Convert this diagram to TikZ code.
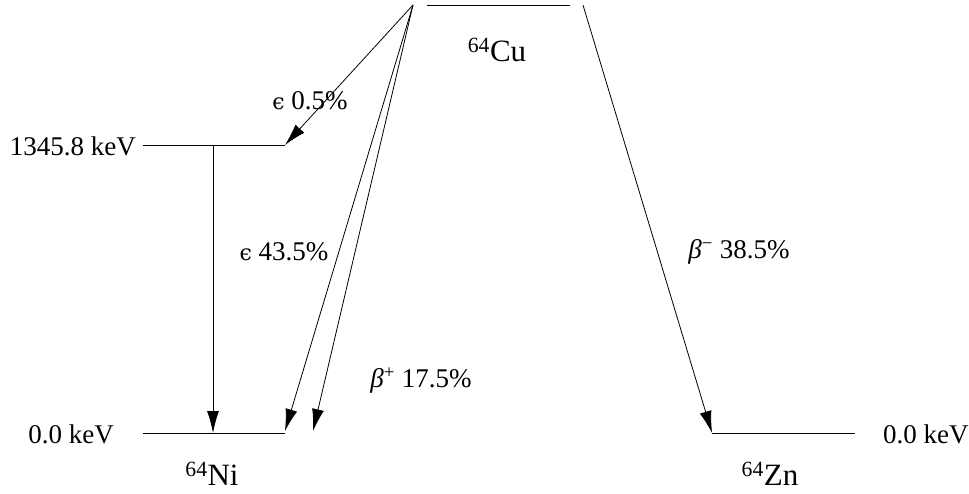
\documentclass[tikz,border=0pt]{standalone}
\usepackage{fontspec}
\setmainfont{Liberation Serif}
\newfontfamily\greekserif{DejaVu Serif}
\usetikzlibrary{arrows.meta}
\begin{document}
\begin{tikzpicture}[x=1pt,y=-1pt,
  lvl/.style={line width=0.9pt},
  tr/.style={line width=0.8pt,-{Latex[length=22pt,width=12pt]}},
  txt/.style={font=\fontsize{27}{30}\selectfont,inner sep=0pt},
  nuc/.style={font=\fontsize{31}{34}\selectfont,inner sep=0pt}]
\useasboundingbox (0,0) rectangle (969,493);
% levels
\coordinate (cuL) at (427,5); \coordinate (cuR) at (570,5);
\coordinate (cuA) at (413,5); \coordinate (cuB) at (583,5);
\draw[lvl] (cuL) -- (cuR);
\coordinate (e1L) at (143,145); \coordinate (e1R) at (285,145);
\draw[lvl] (e1L) -- (e1R);
\coordinate (niL) at (143,433); \coordinate (niR) at (285,433);
\draw[lvl] (niL) -- (niR);
\coordinate (znL) at (712,433); \coordinate (znR) at (855,433);
\draw[lvl] (znL) -- (znR);
% transitions
\coordinate (g1) at (213,145); \coordinate (g2) at (213,433);
\coordinate (ep2) at (285,431); \coordinate (bp) at (313,431);
\draw[tr] (cuA) -- (e1R);
\draw[tr] (g1) -- (g2);
\draw[tr] (cuA) -- (ep2);
\draw[tr] (cuA) -- (bp);
\draw[tr] (cuB) -- (znL);
% labels
\node[txt,anchor=east] (l1) at (136,146) {1345.8 keV};
\node[txt,anchor=east] (l2) at (114,434) {0.0 keV};
\node[txt,anchor=west] (l3) at (883,434) {0.0 keV};
\node[txt] (t1) at (310,101) {{\greekserif\fontsize{22}{26}\selectfont ϵ} 0.5\%};
\node[txt] (t2) at (284,252) {{\greekserif\fontsize{22}{26}\selectfont ϵ} 43.5\%};
\node[txt] (t3) at (421,381) {\textit{β}\textsuperscript{+} 17.5\%};
\node[txt] (t4) at (739,252) {\textit{β}\textsuperscript{−} 38.5\%};
\node[nuc] (cu) at (497,50) {\textsuperscript{64}Cu};
\node[nuc] (ni) at (212,474) {\textsuperscript{64}Ni};
\node[nuc] (zn) at (770,474) {\textsuperscript{64}Zn};
\end{tikzpicture}
\end{document}
